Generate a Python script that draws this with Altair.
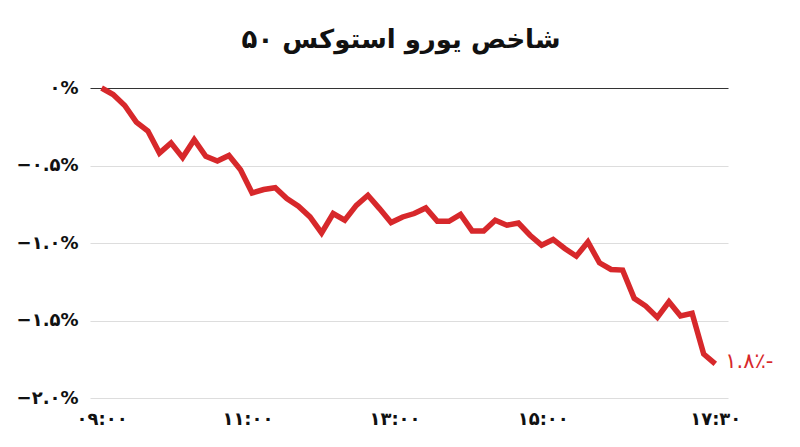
import altair as alt
import pandas as pd

title_text = "شاخص یورو استوکس ۵۰"
values = [0.00, -0.042, -0.113, -0.220, -0.278, -0.420, -0.355, -0.449, -0.334, -0.441,
          -0.471, -0.435, -0.527, -0.677, -0.655, -0.643, -0.713, -0.763, -0.832, -0.935,
          -0.810, -0.853, -0.757, -0.692, -0.778, -0.868, -0.832, -0.810, -0.774, -0.860,
          -0.860, -0.816, -0.922, -0.922, -0.853, -0.885, -0.871, -0.950, -1.014, -0.977,
          -1.035, -1.085, -0.993, -1.128, -1.171, -1.175, -1.357, -1.407, -1.480, -1.379,
          -1.471, -1.454, -1.716, -1.780]
x_tick_pos = [0, 12.6, 25.3, 38.1, 53]
x_tick_labels = ["۰۹:۰۰", "۱۱:۰۰", "۱۳:۰۰", "۱۵:۰۰", "۱۷:۳۰"]
y_tick_vals = [0, -0.5, -1.0, -1.5, -2.0]
y_tick_labels = ["۰%", "−۰.۵%", "−۱.۰%", "−۱.۵%", "−۲.۰%"]
end_label = "۱.۸٪-"

RED = "#d7282b"
FONT = "DejaVu Sans"

df = pd.DataFrame({"idx": list(range(len(values))), "val": values})
df_end = df.tail(1).assign(label=end_label)


def expr(vals, labels):
    s = "''"
    for v, l in reversed(list(zip(vals, labels))):
        s = f"abs(datum.value - ({v})) < 0.01 ? '{l}' : " + s
    return s


x_enc = alt.X("idx:Q", scale=alt.Scale(domain=[-1, 54.1], nice=False, zero=False),
              axis=alt.Axis(values=x_tick_pos, labelExpr=expr(x_tick_pos, x_tick_labels),
                            grid=False, domain=False, ticks=False, title=None,
                            labelFont=FONT, labelFontSize=18, labelFontWeight="bold",
                            labelColor="#111", labelPadding=12))
y_enc = alt.Y("val:Q", scale=alt.Scale(domain=[-2.0, 0], nice=False),
              axis=alt.Axis(values=y_tick_vals, labelExpr=expr(y_tick_vals, y_tick_labels),
                            grid=True,
                            gridColor={"condition": {"test": "datum.value === 0", "value": "#333333"},
                                       "value": "#dddddd"},
                            gridWidth=1.2,
                            domain=False, ticks=False, title=None,
                            labelFont=FONT, labelFontSize=18, labelFontWeight="bold",
                            labelColor="#111", labelPadding=12))

line = alt.Chart(df).mark_line(color=RED, strokeWidth=5.5, strokeJoin="miter", strokeCap="butt").encode(
    x=x_enc, y=y_enc)

end = alt.Chart(df_end).mark_text(color=RED, align="left", baseline="middle", dx=10, dy=-2,
                                   font=FONT, fontSize=21).encode(
    x="idx:Q", y="val:Q", text="label:N")

chart = alt.layer(line, end).properties(
    width=638, height=310,
    title=alt.TitleParams(title_text, font=FONT, fontSize=26, fontWeight="bold", color="#111",
                          anchor="middle", dx=-8, offset=24),
    autosize=alt.AutoSizeParams(type="none"),
    padding={"left": 82, "top": 80, "right": 64, "bottom": 40},
).configure_view(stroke=None)

chart.save("out.html", embed_options={"renderer": "svg", "actions": False})
